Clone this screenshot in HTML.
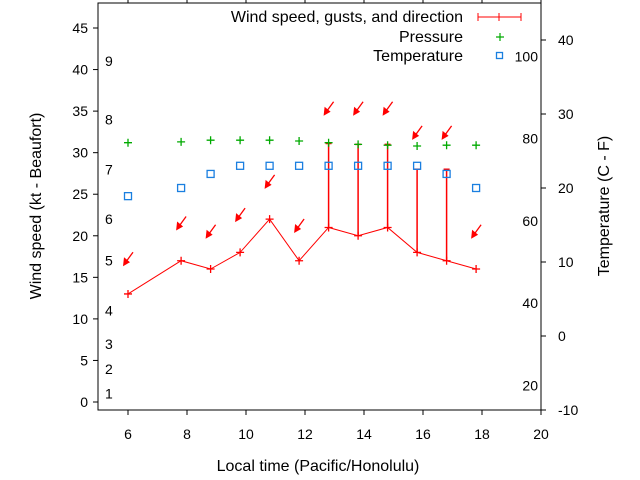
<!DOCTYPE html>
<html><head><meta charset="utf-8"><style>
body{margin:0;background:#fff}
svg{display:block;font-family:"Liberation Sans",sans-serif;font-size:14px}
.big{font-size:16px}
</style></head><body>
<svg id="c" width="640" height="480"></svg>
<script>
const times=[6,7.8,8.8,9.8,10.8,11.8,12.8,13.8,14.8,15.8,16.8,17.8];
const wind=[13,17,16,18,22,17,21,20,21,18,17,16];
const gust=[null,null,null,null,null,null,31.1,31,31,28,28,null];
const dirY=[16.7,21,20,22,26,20.7,34.8,34.8,34.8,31.9,31.9,20];
const pressure=[31.2,31.3,31.5,31.5,31.5,31.4,31.2,31,30.9,30.8,30.9,30.9];
const tempC=[18.9,20,21.9,23,23,23,23,23,23,23,21.9,20];
const xTicks=[6,8,10,12,14,16,18,20];
const yTicks=[0,5,10,15,20,25,30,35,40,45];
const cTicks=[-10,0,10,20,30,40];
const fTicks=[20,40,60,80,100];
const beaufort=[[1,1],[2,4],[3,7],[4,11],[5,17],[6,22],[7,28],[8,34],[9,41]];
const L=98,R=541,T=3,B=410;
const X=v=>128+(v-6)*29.5;
const Y=v=>402-v*8.311;
const YC=c=>336-c*7.4;
const YF=f=>YC((f-32)*5/9);
const svg=document.getElementById('c');const NS='http://www.w3.org/2000/svg';
function el(t,a,p){const e=document.createElementNS(NS,t);for(const k in a)e.setAttribute(k,a[k]);(p||svg).appendChild(e);return e;}
function txt(s,x,y,anchor,name,cls){const e=el('text',{x:x,y:y,'text-anchor':anchor||'start'});if(cls)e.setAttribute('class',cls);e.textContent=s;return e;}
const frame=el('rect',{x:L,y:T,width:R-L,height:B-T,fill:'none',stroke:'#000'});


xTicks.forEach(v=>{const x=X(v);el('line',{x1:x,y1:B,x2:x,y2:B+5,stroke:'#000'});el('line',{x1:x,y1:T,x2:x,y2:T-5,stroke:'#000'});txt(String(v),x,439,'middle','x-tick-label');});
yTicks.forEach(v=>{const y=Y(v);el('line',{x1:L,y1:y,x2:L-5,y2:y,stroke:'#000'});txt(String(v),88,y+5,'end','y-tick-label');});
cTicks.forEach(v=>{const y=YC(v);el('line',{x1:R,y1:y,x2:R+5,y2:y,stroke:'#000'});txt(String(v),558,y+5,'start','temp-c-tick-label');});
fTicks.forEach(v=>{txt(String(v),538,YF(v)+5,'end','temp-f-tick-label');});
beaufort.forEach(b=>{txt(String(b[0]),105,Y(b[1])+5,'start','beaufort-label');});
let d='';times.forEach((t,i)=>{d+=(i?'L':'M')+X(t)+','+Y(wind[i]);});
const wl=el('path',{d:d,fill:'none',stroke:'#f00','stroke-width':1});


times.forEach((t,i)=>{const x=X(t),y=Y(wind[i]);
 el('path',{d:`M${x-4},${y}H${x+4}M${x},${y-4}V${y+4}`,stroke:'#f00','stroke-width':1.3});
 if(gust[i]!=null){const g=el('path',{d:`M${x},${y}V${Y(gust[i])}M${x-3},${Y(gust[i])}H${x+3}`,stroke:'#f00','stroke-width':1.5});}
 const ay=Y(dirY[i]);const a=el('g',{});
 el('path',{d:`M${x+5},${ay-11}L${x-3},${ay}`,stroke:'#f00','stroke-width':1.3},a);
 el('path',{d:`M${x-5},${ay+3}L${x-4},${ay-6}L${x+2},${ay-1}Z`,fill:'#f00'},a);
 const p=el('path',{d:`M${x-4},${Y(pressure[i])}H${x+4}M${x},${Y(pressure[i])-4}V${Y(pressure[i])+4}`,stroke:'#0a0','stroke-width':1.3});
 
 const s=el('rect',{x:x-3.5,y:YC(tempC[i])-3.5,width:7,height:7,fill:'none',stroke:'#1a7fe0','stroke-width':1.3});
 
});
txt('Wind speed, gusts, and direction',463,22,'end','legend-wind','big');
el('path',{d:'M478,17H521M478,13V21M521,13V21M499,13V21',stroke:'#f00'});
txt('Pressure',463,42,'end','legend-pressure','big');
el('path',{d:'M496,37H504M500,33V41',stroke:'#0a0','stroke-width':1.2});
txt('Temperature',463,61,'end','legend-temperature','big');
el('rect',{x:496.5,y:52.5,width:6,height:6,fill:'none',stroke:'#1a7fe0','stroke-width':1.3});
const yl=txt('Wind speed (kt - Beaufort)',0,0,'middle','y-axis-title','big');yl.setAttribute('transform','translate(41,206) rotate(-90)');
const yr=txt('Temperature (C - F)',0,0,'middle','y2-axis-title','big');yr.setAttribute('transform','translate(609,206) rotate(-90)');
txt('Local time (Pacific/Honolulu)',318,471,'middle','x-axis-title','big');
</script>
</body></html>
